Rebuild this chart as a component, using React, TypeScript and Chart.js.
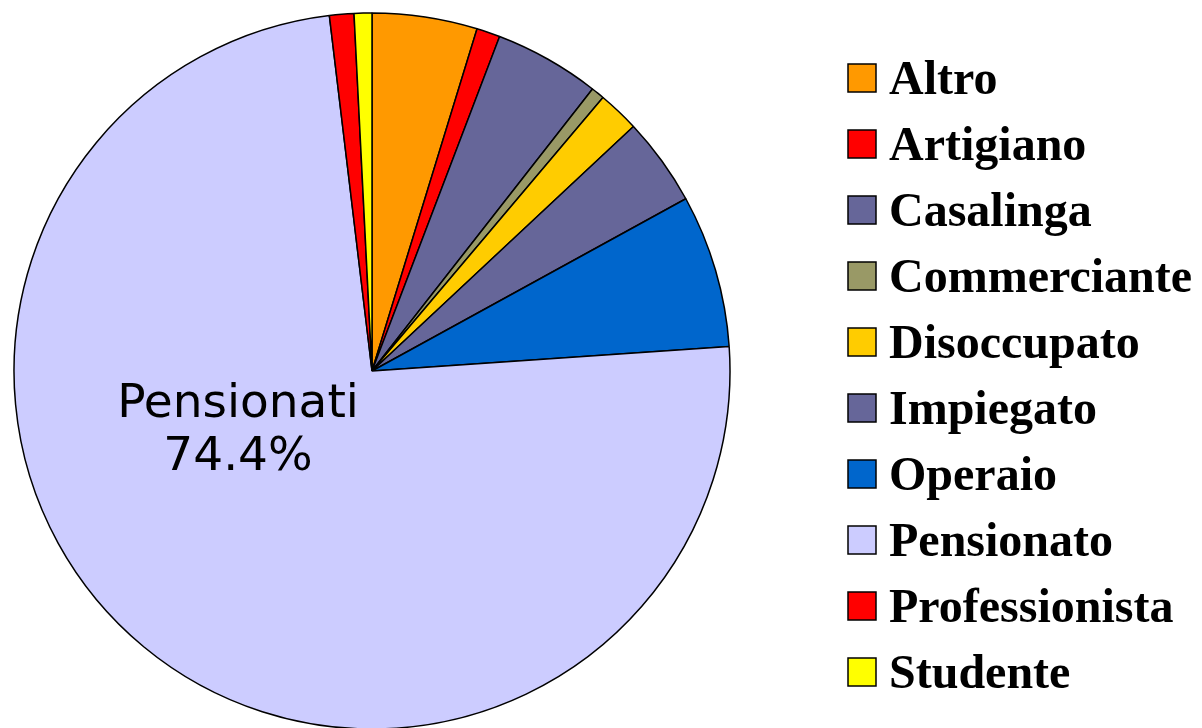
import React, { useEffect, useRef } from "react";
import { Chart, registerables } from "chart.js";

Chart.register(...registerables);

const categories = [
  "Altro",
  "Artigiano",
  "Casalinga",
  "Commerciante",
  "Disoccupato",
  "Impiegato",
  "Operaio",
  "Pensionato",
  "Professionista",
  "Studente",
];
const shares = [4.74, 1.06, 4.76, 0.6, 1.87, 3.98, 6.9, 74.18, 1.1, 0.8];
const sliceColors = [
  "#FF9900",
  "#FF0000",
  "#666699",
  "#999966",
  "#FFCC00",
  "#666699",
  "#0066CC",
  "#CCCCFF",
  "#FF0000",
  "#FFFF00",
];
const calloutIndex = 7;
const calloutLines = ["Pensionati", "74.4%"];

const W = 1202;
const H = 728;

const legendPlugin = {
  id: "customLegend",
  afterDraw(chart: any) {
    const ctx = chart.ctx;
    const labels = chart.data.labels as string[];
    const bg = chart.data.datasets[0].backgroundColor as string[];
    ctx.save();
    ctx.font = "bold 48px 'Liberation Serif', serif";
    ctx.textAlign = "left";
    ctx.textBaseline = "alphabetic";
    labels.forEach((lab, i) => {
      const top = 64 + i * 66;
      ctx.fillStyle = bg[i];
      ctx.fillRect(848, top, 28, 28);
      ctx.lineWidth = 1.5;
      ctx.strokeStyle = "#000";
      ctx.strokeRect(848, top, 28, 28);
      ctx.fillStyle = "#000";
      ctx.fillText(lab, 889, top + 29.5);
    });
    ctx.restore();
  },
};

const calloutPlugin = {
  id: "callout",
  afterDatasetsDraw(chart: any) {
    const arc = chart.getDatasetMeta(0).data[calloutIndex];
    if (!arc) return;
    const ctx = chart.ctx;
    ctx.save();
    ctx.font = "47px 'DejaVu Sans', sans-serif";
    ctx.fillStyle = "#000";
    ctx.textAlign = "center";
    ctx.textBaseline = "alphabetic";
    const cx = arc.x - 134;
    ctx.fillText(calloutLines[0], cx, arc.y + 46);
    ctx.fillText(calloutLines[1], cx, arc.y + 99);
    ctx.restore();
  },
};

export default function App() {
  const ref = useRef<HTMLCanvasElement>(null);
  useEffect(() => {
    if (!ref.current) return;
    const chart = new Chart(ref.current, {
      type: "pie",
      data: {
        labels: categories,
        datasets: [
          {
            data: shares,
            backgroundColor: sliceColors,
            borderColor: "#000000",
            borderWidth: 1.5,
            radius: 358,
          } as any,
        ],
      },
      options: {
        responsive: false,
        animation: false,
        layout: { padding: { left: 14, top: 14, right: W - 730, bottom: 0 } },
        plugins: {
          legend: { display: false },
          tooltip: { enabled: false },
        },
      },
      plugins: [legendPlugin, calloutPlugin],
    });
    return () => chart.destroy();
  }, []);
  return (
    <div style={{ position: "fixed", left: 0, top: 0, width: W, height: H, background: "#fff" }}>
      <canvas ref={ref} width={W} height={H} style={{ display: "block" }} />
    </div>
  );
}
